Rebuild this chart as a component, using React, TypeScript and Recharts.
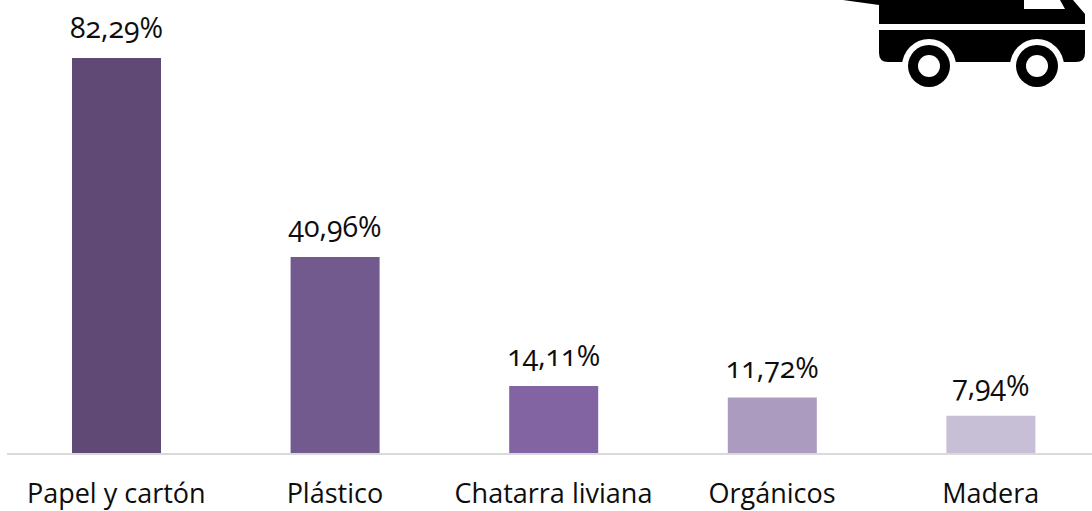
import React from 'react';
import { BarChart, Bar, Cell, XAxis, YAxis, LabelList } from 'recharts';

const categories = ['Papel y cartón', 'Plástico', 'Chatarra liviana', 'Orgánicos', 'Madera'];
const values = [82.29, 40.96, 14.11, 11.72, 7.94];
const colors = ['#604a75', '#72598e', '#8364a2', '#ab9bbf', '#c7bfd6'];

const data = categories.map((name, i) => ({ name, value: values[i] }));

const FONT = '"Open Sans", sans-serif';
const formatPercent = (v: number) => `${v.toFixed(2).replace('.', ',')}%`;

const Truck = () => (
  <svg width={252} height={100} style={{ position: 'absolute', left: 840, top: 0 }}>
    <g transform="translate(-840 0)">
      <path d="M843 0 L879 5 V24 H1085 V14 L1073 0 Z" fill="#000" />
      <path d="M1024 0 H1060 L1065 9 H1024 Z" fill="#fff" />
      <path d="M879 30 H1085 V53 Q1085 62 1076 62 H888 Q879 62 879 53 Z" fill="#000" />
      <circle cx={929} cy={66} r={27} fill="#fff" />
      <circle cx={1037} cy={66} r={27} fill="#fff" />
      <circle cx={929} cy={66} r={21} fill="#000" />
      <circle cx={929} cy={66} r={11} fill="#fff" />
      <circle cx={1037} cy={66} r={21} fill="#000" />
      <circle cx={1037} cy={66} r={11} fill="#fff" />
    </g>
  </svg>
);

export default function App() {
  return (
    <div style={{ position: 'absolute', left: 0, top: 0, width: 1092, height: 511, overflow: 'hidden', background: '#fff' }}>
      <BarChart
        width={1100}
        height={511}
        data={data}
        margin={{ top: 21, right: 0, bottom: 0, left: 7 }}
      >
        <XAxis
          dataKey="name"
          height={57}
          interval={0}
          tickLine={false}
          tickMargin={24}
          axisLine={{ stroke: '#d9d9d9', strokeWidth: 2 }}
          tick={{ fill: '#0d0d0d', fontSize: 27, fontFamily: FONT }}
        />
        <YAxis hide domain={[0, 90]} />
        <Bar dataKey="value" barSize={89} isAnimationActive={false}>
          {data.map((d, i) => (
            <Cell key={d.name} fill={colors[i]} />
          ))}
          <LabelList
            dataKey="value"
            position="top"
            offset={20}
            formatter={formatPercent}
            style={{ fill: '#0d0d0d', fontSize: 28.5, fontFamily: FONT, fontFeatureSettings: '"onum"' }}
          />
        </Bar>
      </BarChart>
      <Truck />
    </div>
  );
}
